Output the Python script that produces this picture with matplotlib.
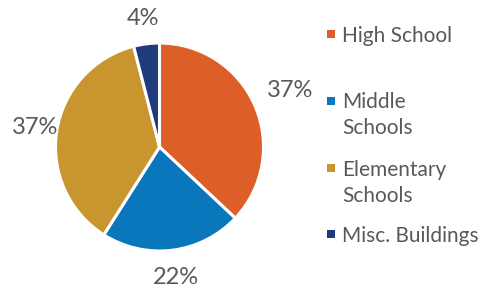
import numpy as np
import matplotlib
matplotlib.use("Agg")
import matplotlib.pyplot as plt
from matplotlib.patches import Rectangle

# data
categories = ["High School", "Middle Schools", "Elementary Schools", "Misc. Buildings"]
legend_text = ["High School", "Middle\nSchools", "Elementary\nSchools", "Misc. Buildings"]
shares = [37, 22, 37, 4]
pct_labels = ["37%", "22%", "37%", "4%"]

colors = ["#DD5E27", "#0A77BD", "#C8952F", "#1E3C7C"]
label_dist = [1.37, 1.26, 1.21, 1.25]
grey = "#595959"

plt.rcParams['font.family'] = ['Lato', 'DejaVu Sans']

W, H = 484, 288
fig = plt.figure(figsize=(W / 100, H / 100), dpi=100)

# pie centre ~ (159.5, 147) px from top-left, radius ~104 px
cx, cy, r = 159.5, 147, 104
ax = fig.add_axes([(cx - r) / W, (H - cy - r) / H, 2 * r / W, 2 * r / H])
wedges, _ = ax.pie(shares, colors=colors, startangle=90, counterclock=False,
                   radius=1, wedgeprops=dict(edgecolor="white", linewidth=2.2))
ax.set_xlim(-1, 1)
ax.set_ylim(-1, 1)
ax.set_aspect("equal")
ax.axis("off")

for w, lab, d in zip(wedges, pct_labels, label_dist):
    ang = np.deg2rad((w.theta1 + w.theta2) / 2)
    ax.text(d * np.cos(ang), d * np.sin(ang), lab, ha="center", va="center",
            fontsize=17, color=grey, clip_on=False)

# legend drawn by hand: markers evenly spaced, text wraps
marker_y = [34, 101, 168, 234]
line_gap = 26
for col, txt, my in zip(colors, legend_text, marker_y):
    s = 7.5
    fig.add_artist(Rectangle(((331 - s / 2) / W, (H - my - s / 2) / H), s / W, s / H,
                             transform=fig.transFigure, facecolor=col, edgecolor="none"))
    for i, line in enumerate(txt.split("\n")):
        fig.text(342.5 / W, (H - my - 7.5 - i * line_gap) / H, line, ha="left",
                 va="baseline", fontsize=15, color=grey)

fig.savefig("out.png", dpi=100)
